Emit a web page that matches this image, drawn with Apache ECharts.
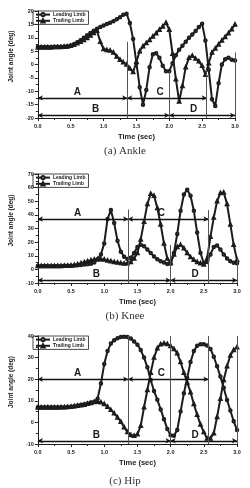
<!DOCTYPE html>
<html>
<head>
<meta charset="utf-8">
<script src="https://cdn.jsdelivr.net/npm/echarts@6/dist/echarts.min.js"></script>
<style>html,body{margin:0;background:#fff}#c{width:250px;height:488px}</style>
</head>
<body>
<div id="c"></div>
<script>
// sample times (s)
const time = [0,0.05,0.1,0.15,0.2,0.25,0.3,0.35,0.4,0.45,0.5,0.55,0.6,0.65,0.7,0.75,0.8,0.85,0.9,0.95,
  1,1.05,1.1,1.15,1.2,1.25,1.3,1.35,1.4,1.45,1.5,1.55,1.6,1.65,1.7,1.75,1.8,1.85,1.9,1.95,
  2,2.05,2.1,2.15,2.2,2.25,2.3,2.35,2.4,2.45,2.5,2.55,2.6,2.65,2.7,2.75,2.8,2.85,2.9,2.95,3];

// joint angles (deg)
const ankleLead = [6.5,6.5,6.5,6.5,6.5,6.6,6.6,6.6,6.7,6.8,
  7.1,7.6,8.3,9.1,10.0,10.9,11.8,12.6,13.4,14.0,
  14.6,15.1,15.6,16.2,16.9,17.7,18.6,19.0,15.5,9.5,
  0.5,-8.5,-15.0,-9.5,-1.0,3.8,4.2,2.5,-0.5,-2.5,
  -2.5,0.5,3.5,5.5,7.0,8.5,10.0,11.2,12.5,14.0,
  15.2,9.0,-2.0,-13.0,-15.5,-7.0,0.0,2.0,2.5,1.8,1.5];
const ankleTrail = [6.4,6.4,6.4,6.4,6.4,6.5,6.5,6.5,6.6,6.7,
  7.0,7.4,7.9,8.5,9.2,9.9,10.8,11.8,12.6,8.5,
  5.8,5.4,5.2,4.5,3.0,1.8,0.8,0.0,-1.5,-2.8,
  1.0,5.0,6.8,8.0,9.2,10.5,11.7,13.0,14.2,15.6,
  13.0,4.0,-5.5,-13.8,-8.0,-1.0,2.5,3.3,2.2,1.2,
  -0.5,-3.8,0.5,4.5,6.0,7.5,9.0,10.3,11.7,13.2,15.0];
const kneeLead = [2.5,2.5,2.5,2.5,2.5,2.5,2.5,2.5,2.6,2.6,
  2.7,2.8,3.0,3.2,3.5,3.8,4.2,5.0,7.5,11.0,
  19.0,37.0,43.5,34.0,21.0,13.0,9.3,7.7,8.5,12.0,
  16.5,18.0,17.0,14.5,12.0,9.5,7.5,6.0,5.0,4.0,
  4.5,12.0,26.0,43.0,55.0,58.5,54.0,43.0,27.0,12.0,
  4.5,5.5,11.0,16.5,17.5,14.5,11.0,8.0,6.0,4.8,4.5];
const kneeTrail = [2.4,2.4,2.4,2.4,2.4,2.4,2.5,2.5,2.6,2.7,
  2.9,3.3,3.8,4.5,5.3,6.0,6.7,7.2,7.5,7.5,
  7.2,6.6,6.0,5.5,5.0,4.6,4.4,4.5,5.5,8.0,
  12.0,22.0,35.0,48.0,55.5,54.0,45.0,33.0,19.0,8.0,
  4.5,11.0,16.5,18.0,15.5,12.0,9.0,7.0,5.5,4.5,
  3.5,8.0,24.0,38.0,50.0,56.0,56.5,48.0,33.0,18.0,7.0];
const hipLead = [7.0,7.0,7.0,7.0,7.0,7.0,7.0,7.0,7.0,7.1,
  7.3,7.5,7.8,8.1,8.4,8.8,9.2,9.6,11.0,18.0,
  27.0,33.0,36.5,38.0,39.0,39.5,39.7,39.5,38.8,37.5,
  36.0,33.5,30.0,25.5,19.6,14.5,10.5,6.0,1.5,-3.0,
  -6.0,-6.2,-3.5,5.0,13.5,20.5,28.0,33.0,35.5,36.2,
  36.2,35.6,34.0,30.4,26.0,21.2,16.0,10.4,5.5,0.5,-3.5];
const hipTrail = [6.9,6.9,6.9,6.9,6.9,6.9,6.9,7.0,7.0,7.1,
  7.3,7.5,7.7,7.9,8.2,8.6,9.0,9.5,9.6,9.3,
  8.5,7.3,5.8,4.2,2.3,0.3,-2.2,-4.5,-5.8,-6.2,
  -5.5,-1.5,7.0,15.0,23.0,30.0,34.3,36.2,36.6,36.3,
  35.4,34.0,32.0,28.0,23.0,18.5,14.0,8.5,3.5,-1.0,
  -4.5,-7.5,-7.5,-5.0,2.5,11.0,19.6,26.0,31.0,33.5,34.8];

// gait phase boundaries (s) and annotation values
const phaseTimes = [1.36, 2.0, 2.57, 3.0];
const phaseNames = ['A', 'B', 'C', 'D'];
const letterTimes = [0.6, 0.88, 1.86, 2.37];
const ankleTops = [8.5, -2.5, -2, 4.5];
const kneeTops = [44, 18, 43.5, 8];
const hipTops = [40, 40, 40, 40];
const ankleArrows = [-12.5, -19];
const kneeArrows = [37, -8];
const hipArrows = [20, -8.5];

const chart = echarts.init(document.getElementById('c'));
const font = 'Liberation Sans, Arial, sans-serif';
const ink = '#1c1c1c';

const panels = [
  {lead: ankleLead, trail: ankleTrail, min: -20, max: 20, step: 5, tops: ankleTops, arrows: ankleArrows,
   top: 11, height: 107, width: 204, caption: '(a) Ankle', capTop: 146},
  {lead: kneeLead, trail: kneeTrail, min: -10, max: 70, step: 10, tops: kneeTops, arrows: kneeArrows,
   top: 174, height: 109, width: 206, caption: '(b) Knee', capTop: 311},
  {lead: hipLead, trail: hipTrail, min: -10, max: 40, step: 10, tops: hipTops, arrows: hipArrows,
   top: 336, height: 108, width: 206, caption: '(c) Hip', capTop: 476}
];

const grid = [], xAxis = [], yAxis = [], series = [], legend = [], title = [];
const lbl = {fontSize: 5.5, fontWeight: 'bold', color: ink, fontFamily: font};

panels.forEach(function (p, i) {
  grid.push({left: 31, top: p.top, width: p.width, height: p.height});
  xAxis.push({
    type: 'value', gridIndex: i, min: 0, max: 3, interval: 0.5,
    name: 'Time (sec)', nameLocation: 'middle', nameGap: 15,
    nameTextStyle: {fontSize: 7.5, fontWeight: 'bold', color: ink, fontFamily: font},
    axisLine: {onZero: false, lineStyle: {color: ink}},
    axisTick: {length: 3, lineStyle: {color: ink}},
    minorTick: {show: true, splitNumber: 2, length: 2, lineStyle: {color: ink}},
    splitLine: {show: false},
    axisLabel: Object.assign({margin: 5, formatter: function (v) { return v.toFixed(1); }}, lbl)
  });
  yAxis.push({
    type: 'value', gridIndex: i, min: p.min, max: p.max, interval: p.step,
    name: 'Joint angle (deg)', nameLocation: 'middle', nameGap: 18,
    nameTextStyle: {fontSize: 6.5, fontWeight: 'bold', color: ink, fontFamily: font, padding: [0, 0, 0, 16]},
    axisLine: {onZero: false, lineStyle: {color: ink}},
    axisTick: {length: 3, lineStyle: {color: ink}},
    minorTick: {show: true, splitNumber: 2, length: 2, lineStyle: {color: ink}},
    splitLine: {show: false},
    axisLabel: Object.assign({margin: 4}, lbl)
  });
  legend.push({
    left: 33, top: p.top, orient: 'vertical', itemGap: 1, itemWidth: 14, itemHeight: 4,
    padding: [1, 3, 1, 2], borderColor: ink, borderWidth: 0.8,
    data: ['Leading Limb', 'Trailing Limb'],
    textStyle: {fontSize: 5, fontWeight: 'bold', color: ink, fontFamily: font, padding: [0, 0, 0, -2]}
  });
  title.push({
    text: p.caption, left: 'center', top: p.capTop, padding: 0,
    textStyle: {fontFamily: 'Liberation Serif, serif', fontSize: 11, fontWeight: 'normal', color: '#333'}
  });

  const up = p.arrows[0], lo = p.arrows[1];
  const line = {width: 2, color: ink};
  series.push({
    name: 'Leading Limb', type: 'line', xAxisIndex: i, yAxisIndex: i,
    data: time.map(function (t, k) { return [t, p.lead[k]]; }),
    symbol: 'emptyCircle', symbolSize: 2.5, lineStyle: line,
    itemStyle: {color: ink, borderWidth: 0.7},
    markLine: {
      silent: true, animation: false, symbol: ['arrow', 'arrow'], symbolSize: [4, 5],
      label: {show: false}, lineStyle: {color: '#111', width: 1.3, type: 'solid'},
      data: [
        [{coord: [0, up]}, {coord: [phaseTimes[0], up]}],
        [{coord: [phaseTimes[0], up]}, {coord: [phaseTimes[2], up]}],
        [{coord: [0, lo]}, {coord: [phaseTimes[1], lo]}],
        [{coord: [phaseTimes[1], lo]}, {coord: [phaseTimes[3], lo]}]
      ]
    },
    markPoint: {
      silent: true, animation: false, symbol: 'circle', symbolSize: 1,
      itemStyle: {color: 'rgba(0,0,0,0)'},
      label: {show: true, position: 'inside', offset: [0, -6], formatter: '{b}',
        fontSize: 10, fontWeight: 'bold', color: ink, fontFamily: font},
      data: phaseNames.map(function (n, k) {
        return {name: n, coord: [letterTimes[k], k % 2 === 0 ? up : lo]};
      })
    }
  });
  series.push({
    name: 'Trailing Limb', type: 'line', xAxisIndex: i, yAxisIndex: i,
    data: time.map(function (t, k) { return [t, p.trail[k]]; }),
    symbol: 'emptyTriangle', symbolSize: 2.5, lineStyle: line,
    itemStyle: {color: ink, borderWidth: 0.7},
    markLine: {
      silent: true, animation: false, symbol: 'none',
      label: {show: false}, lineStyle: {color: '#555', width: 1, type: 'solid'},
      data: phaseTimes.map(function (t, k) { return [{coord: [t, p.min]}, {coord: [t, p.tops[k]]}]; })
    }
  });
});

chart.setOption({
  animation: false,
  textStyle: {fontFamily: font},
  title: title, grid: grid, xAxis: xAxis, yAxis: yAxis, legend: legend, series: series
});
</script>
</body>
</html>
